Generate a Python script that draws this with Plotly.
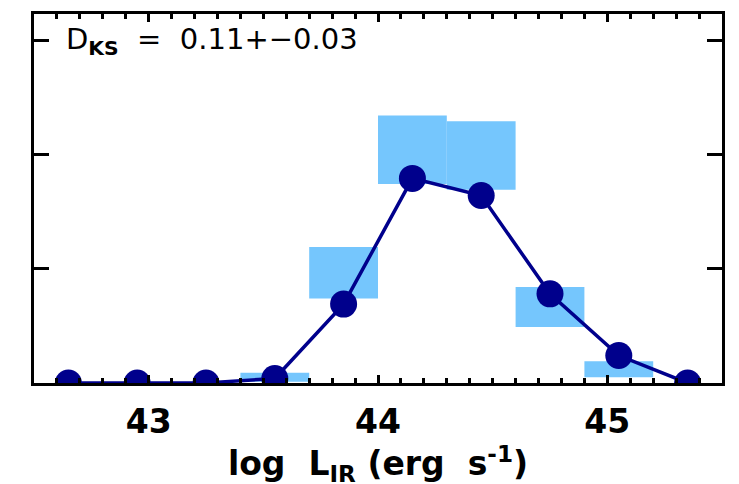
import plotly.graph_objects as go

# Bin centres (log L_IR)
bin_centers = [42.65, 42.95, 43.25, 43.55, 43.85, 44.15, 44.45, 44.75, 45.05, 45.35]
# Fraction per bin (line with markers)
frac = [0.0, 0.0, 0.0, 0.004, 0.069, 0.179, 0.164, 0.078, 0.024, 0.0]
# Shaded box ranges (comparison sample, lower and upper)
box_centers = [43.55, 43.85, 44.15, 44.45, 44.75, 45.05]
box_lo = [0.001, 0.074, 0.174, 0.169, 0.049, 0.005]
box_hi = [0.009, 0.119, 0.234, 0.229, 0.084, 0.019]
bin_width = 0.3

x_ticks = [43, 44, 45]
x_ticklabels = ["43", "44", "45"]
y_ticks = [0.1, 0.2, 0.3]

NAVY = "rgb(0,0,140)"
LIGHT = "rgb(117,198,253)"
FONT = "DejaVu Sans"
SP = "\u00a0"

fig = go.Figure()
fig.add_trace(go.Bar(
    x=box_centers,
    base=box_lo,
    y=[h - l for h, l in zip(box_hi, box_lo)],
    width=bin_width,
    marker=dict(color=LIGHT, line=dict(width=0)),
    showlegend=False,
))
fig.add_trace(go.Scatter(
    x=bin_centers, y=frac, mode="lines+markers",
    line=dict(color=NAVY, width=3.5),
    marker=dict(color=NAVY, size=27),
    showlegend=False,
))

fig.add_annotation(
    xref="paper", yref="paper", x=0.044, y=0.928,
    xanchor="left", yanchor="middle", showarrow=False,
    text="D<sub><b>KS</b></sub>" + SP * 2 + "=" + SP * 2 + "0.11+\u22120.03",
    font=dict(family=FONT, size=29, color="black"),
)

fig.update_layout(
    width=739, height=484,
    margin=dict(l=26, r=25, t=6, b=109),
    paper_bgcolor="white", plot_bgcolor="white",
    barmode="overlay",
    font=dict(family=FONT, color="black"),
)
fig.update_xaxes(
    range=[42.5, 45.5],
    automargin=False,
    tickvals=x_ticks, ticktext=x_ticklabels,
    tickfont=dict(family=FONT, size=33, color="black", weight="bold"),
    ticks="inside", ticklen=8, tickwidth=3, tickcolor="black",
    minor=dict(ticks="inside", dtick=0.1, tick0=42.5, ticklen=5, tickwidth=3, tickcolor="black"),
    showline=True, linewidth=3, linecolor="black", mirror="allticks",
    showgrid=False, zeroline=False,
    ticklabelstandoff=7,
    title=dict(text="<b>log" + SP * 2 + "L<sub>IR</sub>" + SP + "(erg" + SP * 2 + "s<sup>-1</sup>)</b>",
               font=dict(family=FONT, size=33, color="black"), standoff=0),
)
fig.update_yaxes(
    range=[0, 0.3228],
    automargin=False,
    tickvals=y_ticks, showticklabels=False,
    ticks="inside", ticklen=15, tickwidth=3, tickcolor="black",
    showline=True, linewidth=3, linecolor="black", mirror="allticks",
    showgrid=False, zeroline=False,
)

fig.write_html("out.html")
